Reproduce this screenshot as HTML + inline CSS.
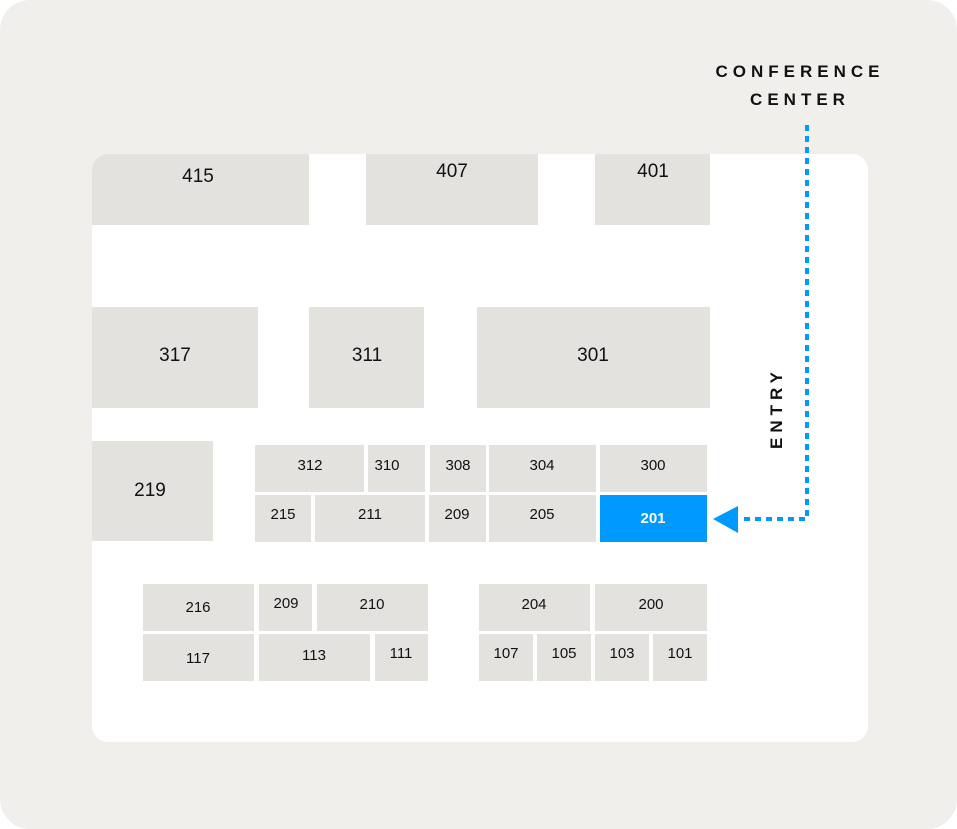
<!DOCTYPE html>
<html><head><style>
html,body{margin:0;padding:0;background:#fff;}
svg{display:block;}
text{font-family:"Liberation Sans",sans-serif;fill:#111;text-anchor:middle;}
.b{fill:#e3e2df;}
.s{font-size:15px;}
.l{font-size:19px;}
.t{font-size:17px;font-weight:bold;letter-spacing:5px;}
</style></head><body>
<svg width="957" height="829" viewBox="0 0 957 829" xmlns="http://www.w3.org/2000/svg">
<defs><clipPath id="c"><rect x="92" y="154" width="776" height="588" rx="16"/></clipPath></defs>
<rect x="0" y="0" width="957" height="829" rx="30" fill="#f0efec"/>
<rect x="92" y="154" width="776" height="588" rx="16" fill="#fff"/>
<g clip-path="url(#c)">
<rect class="b" x="92" y="154" width="217" height="71"/>
<rect class="b" x="366" y="154" width="172" height="71"/>
<rect class="b" x="595" y="154" width="115" height="71"/>
<rect class="b" x="92" y="307" width="166" height="101"/>
<rect class="b" x="309" y="307" width="115" height="101"/>
<rect class="b" x="477" y="307" width="233" height="101"/>
<rect class="b" x="92" y="441" width="121" height="100"/>
</g>
<text class="l" x="198" y="182">415</text>
<text class="l" x="452" y="177">407</text>
<text class="l" x="653" y="177">401</text>
<text class="l" x="175" y="361">317</text>
<text class="l" x="367" y="361">311</text>
<text class="l" x="593" y="361">301</text>
<text class="l" x="150" y="496">219</text>

<rect class="b" x="255" y="445" width="109" height="47"/><text class="s" x="310" y="470">312</text>
<rect class="b" x="368" y="445" width="57" height="47"/><text class="s" x="387" y="470">310</text>
<rect class="b" x="430" y="445" width="56" height="47"/><text class="s" x="458" y="470">308</text>
<rect class="b" x="489" y="445" width="107" height="47"/><text class="s" x="542" y="470">304</text>
<rect class="b" x="600" y="445" width="107" height="47"/><text class="s" x="653" y="470">300</text>

<rect class="b" x="255" y="495" width="56" height="47"/><text class="s" x="283" y="519">215</text>
<rect class="b" x="315" y="495" width="110" height="47"/><text class="s" x="370" y="519">211</text>
<rect class="b" x="429" y="495" width="57" height="47"/><text class="s" x="457" y="519">209</text>
<rect class="b" x="489" y="495" width="107" height="47"/><text class="s" x="542" y="519">205</text>
<rect x="600" y="495" width="107" height="47" fill="#0099ff"/><text class="s" x="653" y="523" style="fill:#fff;font-weight:bold">201</text>

<rect class="b" x="143" y="584" width="111" height="47"/><text class="s" x="198" y="612">216</text>
<rect class="b" x="259" y="584" width="53" height="47"/><text class="s" x="286" y="608">209</text>
<rect class="b" x="317" y="584" width="111" height="47"/><text class="s" x="372" y="609">210</text>
<rect class="b" x="479" y="584" width="111" height="47"/><text class="s" x="534" y="609">204</text>
<rect class="b" x="595" y="584" width="112" height="47"/><text class="s" x="651" y="609">200</text>

<rect class="b" x="143" y="634" width="111" height="47"/><text class="s" x="198" y="663">117</text>
<rect class="b" x="259" y="634" width="111" height="47"/><text class="s" x="314" y="660">113</text>
<rect class="b" x="375" y="634" width="53" height="47"/><text class="s" x="401" y="658">111</text>
<rect class="b" x="479" y="634" width="54" height="47"/><text class="s" x="506" y="658">107</text>
<rect class="b" x="537" y="634" width="54" height="47"/><text class="s" x="564" y="658">105</text>
<rect class="b" x="595" y="634" width="54" height="47"/><text class="s" x="622" y="658">103</text>
<rect class="b" x="653" y="634" width="54" height="47"/><text class="s" x="680" y="658">101</text>

<text class="t" x="800" y="77">CONFERENCE</text>
<text class="t" x="800" y="105">CENTER</text>
<text class="t" transform="translate(782,408) rotate(-90)">ENTRY</text>

<path d="M807 125 V519 H742" fill="none" stroke="#0099ff" stroke-width="4" stroke-dasharray="6 5"/>
<polygon points="713,519 738,506 738,533" fill="#0099ff"/>
</svg>
</body></html>
